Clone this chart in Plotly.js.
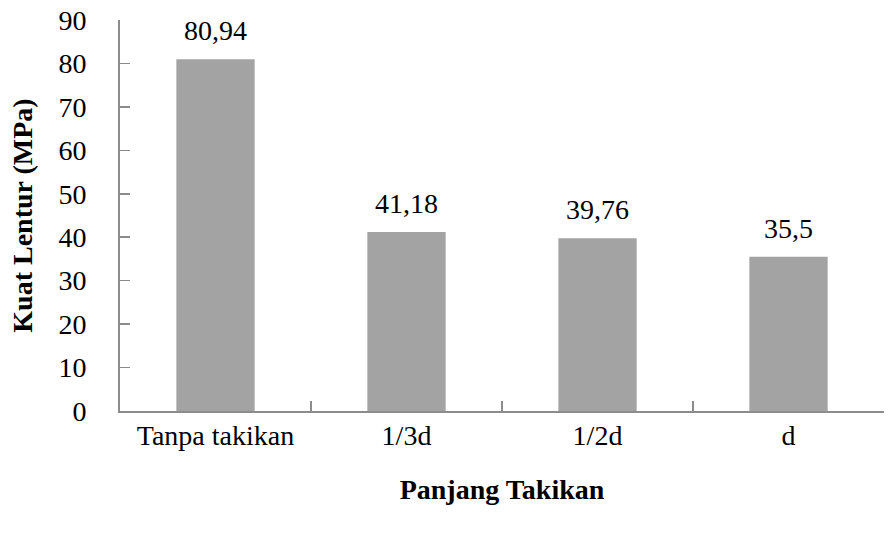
<!DOCTYPE html>
<html>
<head>
<meta charset="utf-8">
<script src="https://cdn.plot.ly/plotly-3.0.1.min.js"></script>
<style>html,body{margin:0;padding:0;background:#fff;}#chart{width:891px;height:533px;}</style>
</head>
<body>
<div id="chart"></div>
<script>
const categories = ["Tanpa takikan", "1/3d", "1/2d", "d"];
const values = [80.94, 41.18, 39.76, 35.5];
const valueLabels = ["80,94", "41,18", "39,76", "35,5"];
const yTicks = [0, 10, 20, 30, 40, 50, 60, 70, 80, 90];

const font = "'Liberation Serif', 'Times New Roman', serif";
const fs = 28;

const trace = {
  type: "bar",
  x: categories,
  y: values,
  marker: {color: "#a3a3a3", line: {width: 0}},
  hoverinfo: "none"
};

const annotations = categories.map((c, i) => ({
  x: c, y: values[i], text: valueLabels[i],
  xref: "x", yref: "y", showarrow: false,
  yanchor: "bottom", yshift: 11,
  font: {family: font, size: fs, color: "#000"}
}));

const layout = {
  width: 891, height: 533,
  margin: {l: 120, r: 7, t: 20, b: 122},
  paper_bgcolor: "#fff", plot_bgcolor: "#fff",
  bargap: 0.59,
  showlegend: false,
  font: {family: font, size: fs, color: "#000"},
  xaxis: {
    type: "category",
    showline: true, linecolor: "#8c8c8c", linewidth: 2,
    ticks: "inside", tickson: "boundaries", ticklen: 10, tickcolor: "#8c8c8c", tickwidth: 1.5,
    showgrid: false, zeroline: false,
    ticklabelstandoff: -2,
    tickfont: {family: font, size: fs, color: "#000"},
    title: {text: "Panjang Takikan", font: {family: font, size: fs, color: "#000", weight: "bold"}, standoff: 30}
  },
  yaxis: {
    range: [0, 90],
    tickvals: yTicks,
    ticktext: yTicks.map(String),
    showline: true, linecolor: "#8c8c8c", linewidth: 2,
    ticks: "inside", ticklen: 10, tickcolor: "#8c8c8c", tickwidth: 1.5,
    showgrid: false, zeroline: false,
    ticklabelstandoff: 26,
    tickfont: {family: font, size: fs, color: "#000"},
    title: {text: "Kuat Lentur (MPa)", font: {family: font, size: fs, color: "#000", weight: "bold"}, standoff: 18}
  },
  annotations: annotations
};

Plotly.newPlot("chart", [trace], layout, {staticPlot: true, displayModeBar: false});
</script>
</body>
</html>
